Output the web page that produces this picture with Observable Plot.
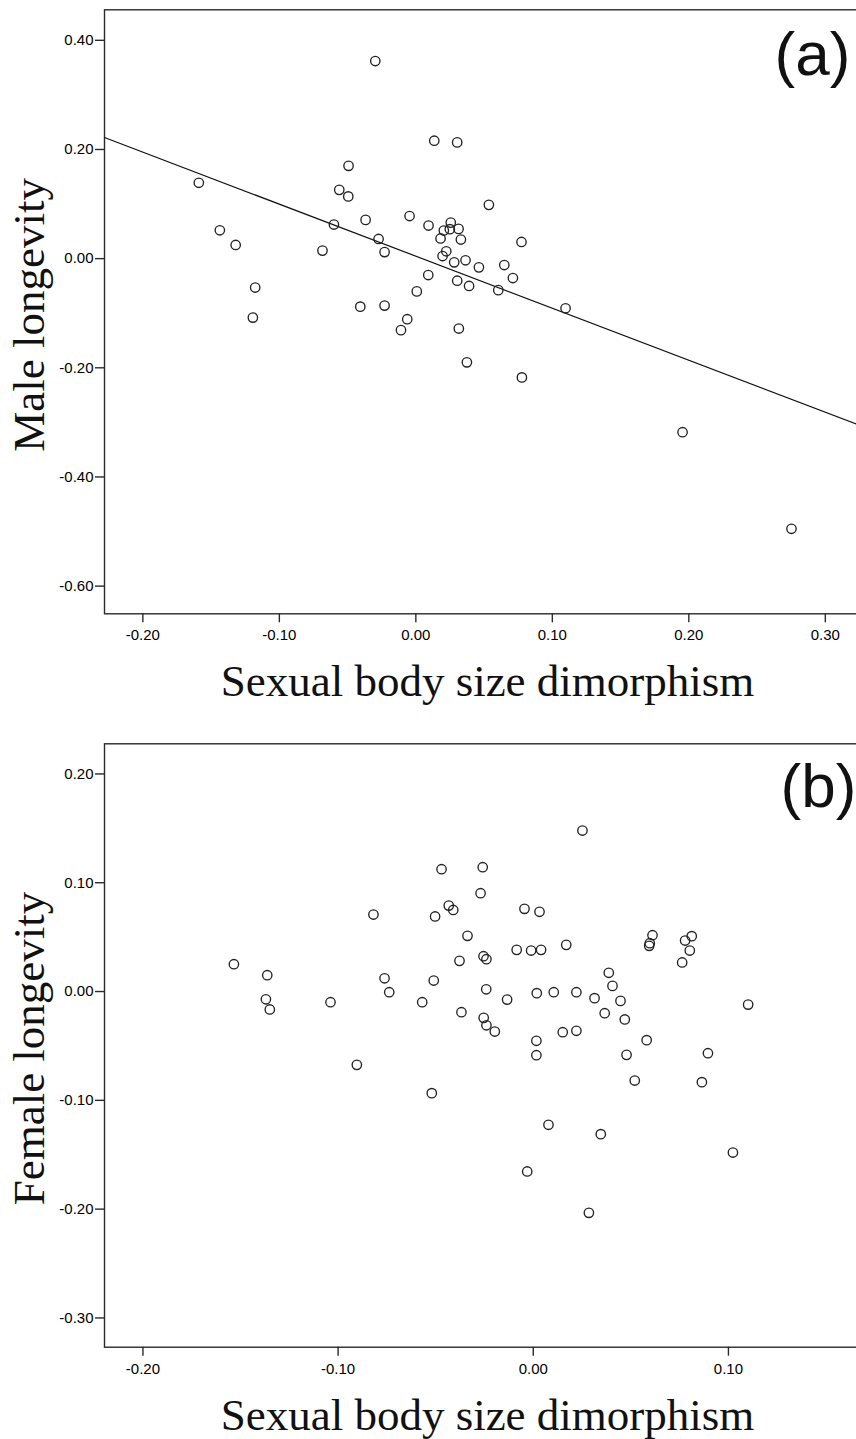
<!DOCTYPE html>
<html>
<head>
<meta charset="utf-8">
<script src="https://cdn.jsdelivr.net/npm/d3@7"></script>
<script src="https://cdn.jsdelivr.net/npm/@observablehq/plot@0.6"></script>
<style>
html, body { margin: 0; padding: 0; background: #fff; }
#wrap { width: 856px; height: 1439px; overflow: hidden; position: relative; background: #fff; }
#wrap svg { display: block; }
</style>
</head>
<body>
<div id="wrap"></div>
<script>
// ---------- Panel (a): male longevity ----------
const maleX = [-0.159,-0.1436,-0.132,-0.1177,-0.1194,-0.0684,-0.060,-0.0297,-0.0493,-0.0561,-0.0495,-0.0368,-0.0273,-0.0229,-0.0046,-0.0407,-0.0229,0.0007,-0.0063,-0.0109,0.0135,0.0303,0.0535,0.0093,0.0256,0.0205,0.0249,0.0313,0.0181,0.033,0.0774,0.0223,0.0196,0.0364,0.0281,0.0462,0.0648,0.0711,0.0091,0.0303,0.039,0.0604,0.1097,0.0315,0.0374,0.0777,0.1954,0.2752];
const maleY = [0.139,0.052,0.025,-0.053,-0.108,0.0147,0.0625,0.362,0.170,0.126,0.114,0.071,0.036,0.012,0.078,-0.088,-0.086,-0.060,-0.111,-0.131,0.216,0.213,0.0985,0.0607,0.066,0.0515,0.054,0.0545,0.037,0.035,0.0305,0.0134,0.0048,-0.003,-0.0068,-0.016,-0.0117,-0.0356,-0.030,-0.0405,-0.050,-0.0577,-0.091,-0.128,-0.190,-0.2176,-0.318,-0.495];
const maleFitSlope = -0.953;
const maleFitIntercept = 0.0045;
const xDomainA = [-0.2281, 0.3331];
const yDomainA = [-0.6507, 0.4559];
const xTicksA = [-0.20, -0.10, 0.00, 0.10, 0.20, 0.30];
const yTicksA = [0.40, 0.20, 0.00, -0.20, -0.40, -0.60];

// ---------- Panel (b): female longevity ----------
const femaleX = [-0.1534,-0.1363,-0.137,-0.135,-0.1039,-0.0904,-0.0819,-0.0762,-0.0738,-0.0569,-0.052,-0.051,-0.0503,-0.047,-0.0433,-0.041,-0.0378,-0.0368,-0.0337,-0.027,-0.0259,-0.0255,-0.024,-0.0241,-0.0254,-0.024,-0.0197,-0.0134,-0.0085,-0.0045,-0.0031,-0.0011,0.0016,0.0016,0.0018,0.0032,0.004,0.0078,0.0105,0.0151,0.0169,0.0221,0.0221,0.0252,0.0285,0.0314,0.0346,0.0366,0.0387,0.0406,0.0447,0.0469,0.0478,0.052,0.0581,0.0597,0.0594,0.0611,0.0763,0.0778,0.0802,0.0812,0.0864,0.0895,0.1023,0.1101];
const femaleY = [0.0251,0.015,-0.0071,-0.0165,-0.0098,-0.0674,0.0708,0.0122,-0.0006,-0.0098,-0.0934,0.0101,0.069,0.1124,0.079,0.075,0.0282,-0.019,0.0512,0.0904,0.1143,0.0325,0.0297,0.0021,-0.0242,-0.031,-0.0368,-0.0074,0.0383,0.076,-0.1654,0.0377,-0.0453,-0.0585,-0.0015,0.0733,0.0383,-0.1225,-0.0006,-0.0374,0.0429,-0.0006,-0.0361,0.148,-0.2034,-0.0061,-0.1311,-0.0199,0.0172,0.0052,-0.0086,-0.0257,-0.0582,-0.0818,-0.0447,0.0444,0.042,0.0518,0.0267,0.0469,0.0377,0.0509,-0.0833,-0.0567,-0.148,-0.012];
const xDomainB = [-0.2197, 0.1728];
const yDomainB = [-0.3269, 0.2277];
const xTicksB = [-0.20, -0.10, 0.00, 0.10];
const yTicksB = [0.20, 0.10, 0.00, -0.10, -0.20, -0.30];

const xTitle = "Sexual body size dimorphism";
const yTitleA = "Male longevity";
const yTitleB = "Female longevity";
const tagA = "(a)";
const tagB = "(b)";

// ---------- drawing ----------
const SANS = "'Liberation Sans', Arial, Helvetica, sans-serif";
const SERIF = "'Liberation Serif', 'Times New Roman', Times, serif";
const INK = "#2a2a2a";
const fmt = d => (Math.abs(d) < 1e-9 ? 0 : d).toFixed(2);

function panel({xs, ys, xDomain, yDomain, xTicks, yTicks, yTitle, tag, fit,
                height, marginTop, marginBottom, tagDx, tagDy}) {
  const pts = xs.map((x, i) => ({x, y: ys[i]}));
  const marks = [
    Plot.frame({stroke: INK, strokeWidth: 1.4}),
    Plot.axisX(xTicks, {tickFormat: fmt, tickSize: 9, tickPadding: 7, fontSize: 15,
                        fontFamily: SANS, label: null, stroke: INK, strokeWidth: 1.4}),
    Plot.axisY(yTicks, {tickFormat: fmt, tickSize: 9, tickPadding: 2, fontSize: 15,
                        fontFamily: SANS, label: null, stroke: INK, strokeWidth: 1.4})
  ];
  if (fit) {
    const line = xDomain.map(x => ({x, y: fit.intercept + fit.slope * x}));
    marks.push(Plot.line(line, {x: "x", y: "y", stroke: "#111", strokeWidth: 1.2}));
  }
  marks.push(
    Plot.dot(pts, {x: "x", y: "y", r: 4.7, stroke: "#222", strokeWidth: 1.35, fill: "none"}),
    Plot.text([tag], {frameAnchor: "top-right", textAnchor: "start", lineAnchor: "bottom",
                      dx: tagDx, dy: tagDy, fontSize: 62, fontFamily: SANS, fill: "#111"}),
    Plot.text([xTitle], {frameAnchor: "bottom", textAnchor: "middle", lineAnchor: "bottom", dy: 82.5,
                         fontSize: 45, fontFamily: SERIF, fill: "#111"}),
    Plot.text([yTitle], {frameAnchor: "left", textAnchor: "middle", rotate: -90, lineAnchor: "bottom",
                         dx: -61, dy: 3, fontSize: 45, fontFamily: SERIF, fill: "#111"})
  );
  return Plot.plot({
    width: 870,
    height,
    marginLeft: 104,
    marginRight: 0,
    marginTop,
    marginBottom,
    style: {maxWidth: "none", overflow: "visible", background: "#fff", fontFamily: SANS},
    x: {domain: xDomain},
    y: {domain: yDomain},
    marks
  });
}

const wrap = document.getElementById("wrap");
wrap.appendChild(panel({
  xs: maleX, ys: maleY, xDomain: xDomainA, yDomain: yDomainA,
  xTicks: xTicksA, yTicks: yTicksA, yTitle: yTitleA, tag: tagA,
  fit: {slope: maleFitSlope, intercept: maleFitIntercept},
  height: 720, marginTop: 9.3, marginBottom: 106.7, tagDx: -96, tagDy: 64.7
}));
wrap.appendChild(panel({
  xs: femaleX, ys: femaleY, xDomain: xDomainB, yDomain: yDomainB,
  xTicks: xTicksB, yTicks: yTicksB, yTitle: yTitleB, tag: tagB,
  fit: null,
  height: 719, marginTop: 23.3, marginBottom: 92.3, tagDx: -90, tagDy: 62.7
}));
</script>
</body>
</html>
